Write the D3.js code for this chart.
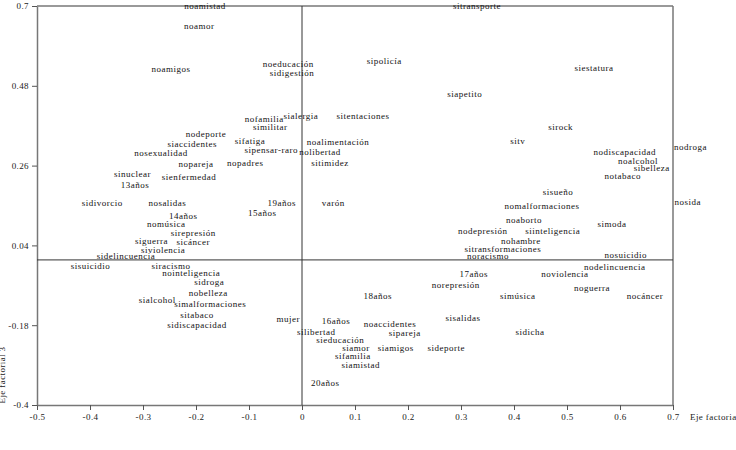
<!DOCTYPE html>
<html>
<head>
<meta charset="utf-8">
<script src="https://cdn.jsdelivr.net/npm/d3@7"></script>
<style>
  body { margin: 0; background: #fff; }
  text { font-family: "Liberation Serif", "DejaVu Serif", serif; }
</style>
</head>
<body>
<div id="chart-container"></div>
<script>
// category labels and their coordinates on the two factorial axes
const labels = [
  "noamistad", "noamor", "noamigos", "nodeporte", "siaccidentes", "nosexualidad",
  "nopareja", "nopadres", "sinuclear", "sienfermedad", "13años", "sidivorcio",
  "nosalidas", "14años", "nomúsica", "sirepresión", "siguerra", "sicáncer",
  "siviolencia", "sidelincuencia", "sisuicidio", "siracismo", "nointeligencia", "sidroga",
  "nobelleza", "sialcohol", "simalformaciones", "sitabaco", "sidiscapacidad", "mujer",
  "noeducación", "sidigestión", "sipolicía", "sitransporte", "siapetito", "nofamilia",
  "sialergia", "sitentaciones", "similitar", "sifatiga", "sipensar-raro", "noalimentación",
  "nolibertad", "sitimidez", "19años", "15años", "varón", "17años",
  "norepresión", "18años", "16años", "noaccidentes", "silibertad", "sipareja",
  "sisalidas", "sieducación", "siamor", "siamigos", "sideporte", "sifamilia",
  "siamistad", "20años", "siestatura", "sirock", "sitv", "nodroga",
  "nodiscapacidad", "noalcohol", "sibelleza", "notabaco", "sisueño", "nosida",
  "nomalformaciones", "noaborto", "simoda", "nodepresión", "siinteligencia", "nohambre",
  "sitransformaciones", "noracismo", "nosuicidio", "nodelincuencia", "noviolencia", "noguerra",
  "simúsica", "nocáncer", "sidicha"
];
const eje1 = [
  -0.183, -0.194, -0.247, -0.181, -0.207, -0.266,
  -0.200, -0.107, -0.320, -0.213, -0.315, -0.377,
  -0.254, -0.224, -0.256, -0.205, -0.284, -0.205,
  -0.262, -0.332, -0.399, -0.247, -0.209, -0.175,
  -0.177, -0.273, -0.173, -0.198, -0.198, -0.026,
  -0.026, -0.019, 0.155, 0.330, 0.307, -0.071,
  -0.002, 0.115, -0.060, -0.098, -0.058, 0.068,
  0.034, 0.053, -0.038, -0.075, 0.059, 0.324,
  0.290, 0.143, 0.064, 0.166, 0.027, 0.194,
  0.304, 0.072, 0.102, 0.177, 0.272, 0.096,
  0.111, 0.044, 0.551, 0.488, 0.407, 0.733,
  0.609, 0.634, 0.660, 0.605, 0.483, 0.728,
  0.453, 0.419, 0.585, 0.341, 0.473, 0.413,
  0.379, 0.351, 0.611, 0.590, 0.496, 0.547,
  0.407, 0.647, 0.430
];
const eje3 = [
  0.699, 0.644, 0.526, 0.347, 0.319, 0.294,
  0.264, 0.267, 0.236, 0.228, 0.206, 0.156,
  0.156, 0.121, 0.099, 0.074, 0.052, 0.049,
  0.027, 0.010, -0.017, -0.017, -0.036, -0.061,
  -0.091, -0.111, -0.122, -0.152, -0.180, -0.163,
  0.539, 0.515, 0.548, 0.699, 0.457, 0.388,
  0.396, 0.396, 0.366, 0.327, 0.302, 0.325,
  0.297, 0.267, 0.156, 0.129, 0.156, -0.039,
  -0.069, -0.100, -0.169, -0.177, -0.199, -0.202,
  -0.160, -0.221, -0.243, -0.243, -0.243, -0.265,
  -0.290, -0.339, 0.528, 0.366, 0.327, 0.311,
  0.297, 0.272, 0.253, 0.231, 0.187, 0.159,
  0.148, 0.110, 0.099, 0.079, 0.079, 0.052,
  0.030, 0.010, 0.013, -0.020, -0.039, -0.078,
  -0.100, -0.100, -0.199
];

const xTicks = [-0.5, -0.4, -0.3, -0.2, -0.1, 0, 0.1, 0.2, 0.3, 0.4, 0.5, 0.6, 0.7];
const xTickLabels = ["-0.5", "-0.4", "-0.3", "-0.2", "-0.1", "0", "0.1", "0.2", "0.3", "0.4", "0.5", "0.6", "0.7"];
const yTicks = [0.7, 0.48, 0.26, 0.04, -0.18, -0.4];
const yTickLabels = ["0.7", "0.48", "0.26", "0.04", "-0.18", "-0.4"];

const margin = { top: 6, right: 63, bottom: 45, left: 37 };
const width = 736 - margin.left - margin.right;
const height = 450 - margin.top - margin.bottom;

const svg = d3.select("#chart-container")
  .append("svg")
  .attr("width", width + margin.left + margin.right)
  .attr("height", height + margin.top + margin.bottom)
  .append("g")
  .attr("transform", `translate(${margin.left},${margin.top})`);

const x = d3.scaleLinear().domain([-0.5, 0.7]).range([0, width]);
const y = d3.scaleLinear().domain([-0.4, 0.7]).range([height, 0]);

// axes
svg.append("g")
  .attr("transform", `translate(0,${height})`)
  .call(d3.axisBottom(x)
    .tickValues(xTicks)
    .tickSizeInner(5)
    .tickSizeOuter(0)
    .tickPadding(4)
    .tickFormat((d, i) => xTickLabels[i]));

svg.append("g")
  .call(d3.axisLeft(y)
    .tickValues(yTicks)
    .tickSizeInner(5)
    .tickSizeOuter(0)
    .tickPadding(3)
    .tickFormat((d, i) => yTickLabels[i]));

svg.selectAll(".domain").attr("stroke", "#777").attr("stroke-width", 1.5);
svg.selectAll(".tick line").attr("stroke", "#555");
svg.selectAll(".tick text")
  .style("font-family", "'Liberation Serif', serif")
  .style("font-size", "9px")
  .style("letter-spacing", "0.4px")
  .attr("fill", "#222");

// top and right edges of the frame
svg.append("line")
  .attr("x1", 0).attr("x2", width)
  .attr("y1", 0).attr("y2", 0)
  .attr("stroke", "#777").attr("stroke-width", 1.5);
svg.append("line")
  .attr("x1", width).attr("x2", width)
  .attr("y1", 0).attr("y2", height)
  .attr("stroke", "#777").attr("stroke-width", 1.5);

// zero lines
svg.append("line")
  .attr("x1", 0).attr("x2", width)
  .attr("y1", y(0)).attr("y2", y(0))
  .attr("stroke", "#333").attr("stroke-width", 1);
svg.append("line")
  .attr("x1", x(0)).attr("x2", x(0))
  .attr("y1", 0).attr("y2", height)
  .attr("stroke", "#333").attr("stroke-width", 1);

// point labels
const data = labels.map((d, i) => ({ name: d, e1: eje1[i], e3: eje3[i] }));

svg.selectAll(".pt")
  .data(data)
  .enter()
  .append("text")
  .attr("class", "pt")
  .attr("x", d => x(d.e1))
  .attr("y", d => y(d.e3))
  .attr("dy", "0.32em")
  .style("text-anchor", "middle")
  .style("font-size", "9px")
  .style("letter-spacing", "0.5px")
  .style("fill", "#111")
  .text(d => d.name);

// axis titles
svg.append("text")
  .attr("x", width + 17)
  .attr("y", height + 15)
  .style("font-size", "9px")
  .style("letter-spacing", "0.4px")
  .style("fill", "#222")
  .text("Eje factorial 1");

svg.append("text")
  .attr("transform", "rotate(-90)")
  .attr("x", -(height - 30))
  .attr("y", -margin.left + 5)
  .style("text-anchor", "middle")
  .style("font-size", "9px")
  .style("letter-spacing", "0.4px")
  .style("fill", "#222")
  .text("Eje factorial 3");
</script>
</body>
</html>
